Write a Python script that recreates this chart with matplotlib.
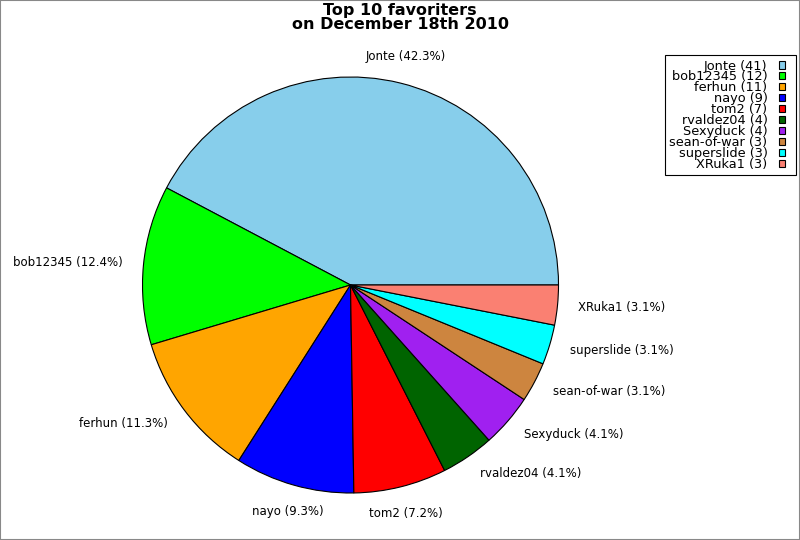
import matplotlib
matplotlib.use("Agg")
import matplotlib.pyplot as plt
from matplotlib.patches import Rectangle
from matplotlib.legend_handler import HandlerPatch

names = ["Jonte", "bob12345", "ferhun", "nayo", "tom2", "rvaldez04",
         "Sexyduck", "sean-of-war", "superslide", "XRuka1"]
counts = [41, 12, 11, 9, 7, 4, 4, 3, 3, 3]
colors = ["#87ceeb", "#00ff00", "#ffa500", "#0000ff", "#ff0000", "#006400",
          "#a020f0", "#cd853f", "#00ffff", "#fa8072"]
title = "Top 10 favoriters\non December 18th 2010"

total = sum(counts)
pie_labels = [f"{n} ({c / total * 100:.1f}%)" for n, c in zip(names, counts)]
legend_labels = [f"{n} ({c})" for n, c in zip(names, counts)]

fig = plt.figure(figsize=(8, 5.4), dpi=100)
W, H = 800, 540
cx, cy, r = 350.5, 285, 208
ax = fig.add_axes([(cx - r) / W, (H - cy - r) / H, 2 * r / W, 2 * r / H])
wedges, texts = ax.pie(counts, labels=pie_labels, colors=colors, startangle=0,
                       counterclock=True, labeldistance=1.1, radius=1,
                       wedgeprops=dict(edgecolor="black", linewidth=0.8),
                       textprops=dict(fontsize=8.5))
for t in texts:
    x, y = t.get_position()
    if abs(x) < 0.3:
        t.set_ha("center")
        t.set_va("bottom" if y > 0 else "top")
ax.set_xlim(-1, 1)
ax.set_ylim(-1, 1)
ax.set_aspect("equal")
ax.axis("off")

fig.text(0.5, 1 - 3 / H, title, ha="center", va="top", fontsize=11.5,
         fontweight="bold", linespacing=0.95)


def small_box(legend, orig_handle, xdescent, ydescent, width, height, fontsize):
    w = 0.5 * fontsize
    h = 0.55 * fontsize
    return Rectangle((-xdescent, -ydescent + (height - h) / 2), w, h)


leg = fig.legend(wedges, legend_labels, loc="upper right",
                 bbox_to_anchor=(796 / W, 1 - 55 / H), borderaxespad=0,
                 markerfirst=False,
                 fontsize=9.3, labelspacing=-0.16, handlelength=1.0,
                 handleheight=0.6, handletextpad=0.85, borderpad=0.35,
                 fancybox=False, framealpha=1, edgecolor="black",
                 handler_map={matplotlib.patches.Wedge: HandlerPatch(patch_func=small_box)})
leg.get_frame().set_linewidth(0.8)
for t in leg.get_texts():
    t.set_ha("right")
leg._legend_box.align = "right"

fig.patches.append(Rectangle((0, 0), 1, 1, transform=fig.transFigure,
                             fill=False, edgecolor="#888888", linewidth=1.5))
fig.savefig("out.png", dpi=100)
